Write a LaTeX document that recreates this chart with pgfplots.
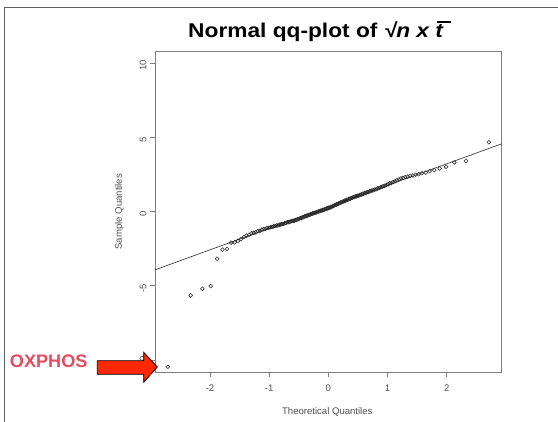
\documentclass[border=0pt]{standalone}
\usepackage{fontspec}
\setmainfont{Liberation Sans}
\usepackage{pgfplots}
\pgfplotsset{compat=1.18}
\definecolor{axgray}{RGB}{125,125,125}
\definecolor{txtgray}{RGB}{80,80,80}
\definecolor{ptgray}{RGB}{40,40,40}
\definecolor{oxred}{RGB}{232,74,95}
\definecolor{arrred}{RGB}{255,40,0}
\definecolor{framegray}{RGB}{95,95,95}
\begin{document}
\begin{tikzpicture}
\useasboundingbox (0bp,0bp) rectangle (558bp,422bp);
\draw[framegray, line width=1bp] (4bp,0bp) -- (4bp,414.5bp) -- (558bp,414.5bp);
\begin{axis}[
  at={(155bp,50bp)}, anchor=south west,
  scale only axis, width=346.7bp, height=321bp,
  xmin=-2.93, xmax=2.93, ymin=-10.8, ymax=10.8,
  xtick={-2,-1,0,1,2}, xticklabels={{-2},{-1},0,1,2},
  ytick={-10,-5,0,5,10}, yticklabels={{-10},{-5},0,5,10},
  tick align=outside, tick pos=left, major tick length=5bp,
  axis line style={axgray, line width=0.7bp},
  tick style={axgray, line width=0.7bp},
  ticklabel style={font=\fontsize{9.6}{11}\selectfont, text=txtgray},
  xticklabel style={yshift=-4bp},
  yticklabel style={rotate=90, anchor=south, xshift=-2.5bp},
]
\addplot[ptgray, line width=0.6bp] coordinates {(-2.93,-3.925) (2.93,4.555)};
\addplot[only marks, mark=o, mark size=1.9bp, mark options={ptgray, line width=0.55bp}] coordinates {
(-2.713,-10.45) (-2.326,-5.65) (-2.128,-5.20) (-1.989,-5.02) (-1.881,-3.18)
(-1.790,-2.57) (-1.713,-2.52) (-1.645,-2.10) (-1.583,-2.08) (-1.527,-1.97)
(-1.476,-1.86) (-1.428,-1.72) (-1.383,-1.63) (-1.341,-1.57) (-1.301,-1.47)
(-1.263,-1.44) (-1.227,-1.40) (-1.192,-1.32) (-1.159,-1.31) (-1.126,-1.23)
(-1.095,-1.19) (-1.065,-1.18) (-1.036,-1.11) (-1.008,-1.10) (-0.981,-1.06)
(-0.954,-1.05) (-0.928,-1.00) (-0.903,-0.99) (-0.878,-0.94) (-0.854,-0.94)
(-0.830,-0.89) (-0.806,-0.88) (-0.783,-0.84) (-0.761,-0.84) (-0.739,-0.79)
(-0.717,-0.78) (-0.696,-0.72) (-0.674,-0.71) (-0.654,-0.70) (-0.633,-0.67)
(-0.613,-0.63) (-0.593,-0.63) (-0.573,-0.61) (-0.553,-0.57) (-0.534,-0.56)
(-0.515,-0.51) (-0.496,-0.50) (-0.477,-0.45) (-0.459,-0.44) (-0.440,-0.39)
(-0.422,-0.38) (-0.404,-0.33) (-0.385,-0.32) (-0.367,-0.28) (-0.350,-0.27)
(-0.332,-0.23) (-0.314,-0.22) (-0.297,-0.18) (-0.279,-0.17) (-0.262,-0.13)
(-0.245,-0.12) (-0.228,-0.08) (-0.210,-0.07) (-0.193,-0.03) (-0.176,-0.03)
(-0.159,0.02) (-0.143,0.02) (-0.126,0.06) (-0.109,0.06) (-0.092,0.11)
(-0.075,0.11) (-0.059,0.16) (-0.042,0.16) (-0.025,0.21) (-0.008,0.21)
(0.008,0.26) (0.025,0.26) (0.042,0.31) (0.059,0.32) (0.075,0.37)
(0.092,0.38) (0.109,0.43) (0.126,0.44) (0.143,0.49) (0.159,0.50)
(0.176,0.55) (0.193,0.56) (0.210,0.61) (0.228,0.62) (0.245,0.67)
(0.262,0.68) (0.279,0.73) (0.297,0.74) (0.314,0.79) (0.332,0.80)
(0.350,0.85) (0.367,0.86) (0.385,0.91) (0.404,0.92) (0.422,0.97)
(0.440,0.98) (0.459,1.02) (0.477,1.02) (0.496,1.06) (0.515,1.07)
(0.534,1.12) (0.553,1.13) (0.573,1.18) (0.593,1.19) (0.613,1.24)
(0.633,1.25) (0.654,1.30) (0.674,1.31) (0.696,1.36) (0.717,1.37)
(0.739,1.42) (0.761,1.43) (0.783,1.48) (0.806,1.49) (0.830,1.55)
(0.854,1.57) (0.878,1.63) (0.903,1.65) (0.928,1.71) (0.954,1.73)
(0.981,1.79) (1.008,1.82) (1.036,1.89) (1.065,1.92) (1.095,1.99)
(1.126,2.03) (1.159,2.11) (1.192,2.15) (1.227,2.23) (1.263,2.26)
(1.301,2.32) (1.341,2.34) (1.383,2.40) (1.428,2.42) (1.476,2.48)
(1.527,2.51) (1.583,2.58) (1.645,2.62) (1.713,2.71) (1.790,2.78)
(1.881,2.90) (1.989,3.01) (2.128,3.30) (2.326,3.40) (2.713,4.66)
};
\end{axis}
\node[anchor=base, inner sep=0pt] at (316bp,384bp) {\scalebox{1.14}[1]{\fontsize{20}{24}\selectfont\bfseries Normal qq-plot of \textit{√n x t}\rlap{\hspace{-0.30em}\rule[0.76em]{0.6em}{0.1em}}}};
\node[txtgray, inner sep=0pt] at (327.3bp,9.7bp) {\fontsize{9.6}{11}\selectfont Theoretical Quantiles};
\node[txtgray, inner sep=0pt, rotate=90] at (119.3bp,210.3bp) {\fontsize{9.6}{11}\selectfont Sample Quantiles};
\node[oxred, anchor=base, inner sep=0pt] at (48.7bp,54bp) {\fontsize{18.2}{20}\selectfont\bfseries OXPHOS};
\draw[black, line width=0.8bp, fill=arrred] (97.3bp,61.3bp) -- (143.7bp,61.3bp) -- (143.7bp,69.7bp) -- (157.3bp,55bp) -- (143.7bp,39.7bp) -- (143.7bp,47.7bp) -- (97.3bp,47.7bp) -- cycle;
\end{tikzpicture}
\end{document}
